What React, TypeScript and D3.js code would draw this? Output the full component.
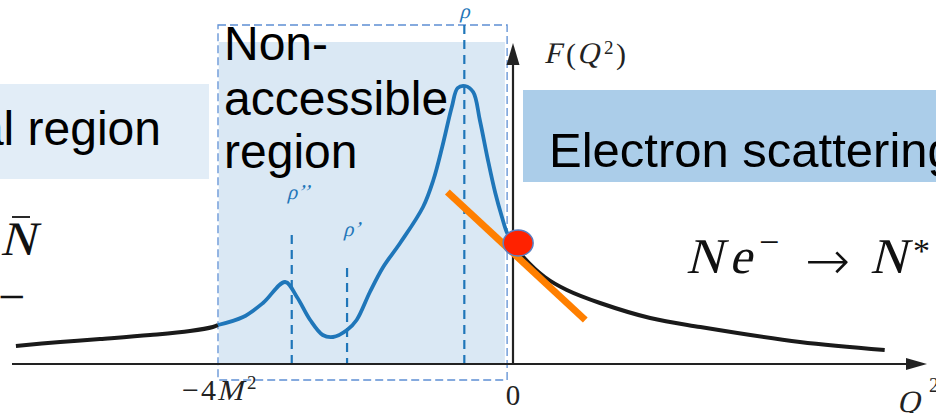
import React from "react";
import * as d3 from "d3";

// Q^2 in units of M^2, F in arbitrary units
const leftQ = [-6.74, -6.14, -5.6, -4.92, -4.38, -4.07, -4.0];
const leftF = [0.18, 0.22, 0.25, 0.29, 0.33, 0.37, 0.39];

const blueQ = [-4.0, -3.66, -3.39, -3.09, -2.93, -2.75, -2.58, -2.44, -2.25, -2.12, -1.94, -1.76, -1.53, -1.22, -1.08, -0.96, -0.83, -0.75, -0.65, -0.54, -0.45, -0.34, -0.24, -0.15, -0.08, 0.0];
const blueF = [0.39, 0.47, 0.61, 0.82, 0.67, 0.44, 0.29, 0.27, 0.34, 0.44, 0.72, 0.97, 1.21, 1.57, 1.84, 2.17, 2.57, 2.76, 2.78, 2.72, 2.44, 2.04, 1.71, 1.47, 1.31, 1.21];

const rightQ = [0.0, 0.14, 0.43, 0.73, 1.18, 1.86, 2.54, 3.89, 5.04];
const rightF = [1.21, 1.07, 0.87, 0.74, 0.61, 0.46, 0.37, 0.22, 0.14];

const tangentQ = [-0.89, 0.98];
const tangentF = [1.72, 0.44];

const resonanceNames = ["ρ’’", "ρ’", "ρ"];
const resonanceQ = [-3.0, -2.25, -0.66];
const resonanceTop = [1.29, 0.96, 3.39];

const xTickValues = [-4, 0];
const xTickLabels = ["−4", "0"];

const W = 936;
const H = 413;

const sans = "'Liberation Sans', Arial, sans-serif";
const serif = "'Liberation Serif', 'Times New Roman', serif";

function It(props: {
  x: number;
  y: number;
  size: number;
  fill?: string;
  anchor?: string;
  children: React.ReactNode;
}) {
  return (
    <text
      transform={`translate(${props.x},${props.y}) skewX(-14)`}
      fontFamily={serif}
      fontSize={props.size}
      fill={props.fill || "#111"}
      textAnchor={props.anchor || "start"}
    >
      {props.children}
    </text>
  );
}

function Rm(props: {
  x: number;
  y: number;
  size: number;
  fill?: string;
  anchor?: string;
  family?: string;
  spacing?: number;
  weight?: number;
  children: React.ReactNode;
}) {
  return (
    <text
      x={props.x}
      y={props.y}
      fontFamily={props.family || serif}
      fontSize={props.size}
      fontWeight={props.weight || 400}
      fill={props.fill || "#111"}
      textAnchor={props.anchor || "start"}
      letterSpacing={props.spacing || 0}
    >
      {props.children}
    </text>
  );
}

export default function App() {
  const x = d3.scaleLinear().domain([-4, 0]).range([218, 513]);
  const y = d3.scaleLinear().domain([0, 1]).range([364, 264]);

  const line = d3
    .line<[number, number]>()
    .x((d) => x(d[0]))
    .y((d) => y(d[1]))
    .curve(d3.curveCatmullRom.alpha(0.5));

  const zip = (a: number[], b: number[]) => a.map((v, i) => [v, b[i]] as [number, number]);

  const axisY = y(0);
  const axisX = x(0);
  const blue = "#1f76b9";
  const dashBlue = "#5d8fd4";
  const labelY = [199, 236, 18];
  const labelDx = [-5, -4, -5];

  return (
    <svg
      width={W}
      height={H}
      style={{ position: "absolute", left: 0, top: 0, background: "#fff" }}
    >
      {/* shaded non-accessible region */}
      <rect x={x(-3.99)} y={y(3.22)} width={x(-0.11) - x(-3.99)} height={y(0) - y(3.22)} fill="#dae8f4" />
      {/* left label box */}
      <rect x={0} y={84} width={209} height={95} fill="#e2edf7" />
      <text x={161} y={145} textAnchor="end" fontFamily={sans} fontSize={48} fill="#000">al region</text>
      {/* electron scattering box */}
      <rect x={523} y={90} width={W - 523} height={92} fill="#abcde9" />
      <text x={549} y={167} fontFamily={sans} fontSize={49} fill="#000">Electron scattering</text>

      {/* Non-accessible region text */}
      <text fontFamily={sans} fontSize={48} fill="#000">
        <tspan x={224} y={60}>Non-</tspan>
        <tspan x={224} y={115}>accessible</tspan>
        <tspan x={224} y={168}>region</tspan>
      </text>

      {/* dashed rectangle */}
      <rect
        x={x(-4)}
        y={y(3.39)}
        width={x(-0.08) - x(-4)}
        height={y(-0.16) - y(3.39)}
        fill="none"
        stroke={dashBlue}
        strokeWidth={1.3}
        strokeDasharray="8 4"
      />

      {/* resonance dashed lines */}
      {resonanceQ.map((q, i) => (
        <line
          key={i}
          x1={x(q)}
          x2={x(q)}
          y1={y(resonanceTop[i])}
          y2={y(0)}
          stroke={blue}
          strokeWidth={2.2}
          strokeDasharray="9 6"
        />
      ))}
      {resonanceQ.map((q, i) => (
        <It key={"l" + i} x={x(q) + labelDx[i]} y={labelY[i]} size={21} fill={blue}>
          {resonanceNames[i]}
        </It>
      ))}

      {/* axes */}
      <line x1={12} x2={910} y1={axisY} y2={axisY} stroke="#222" strokeWidth={2} />
      <polygon points={`927,${axisY} 906,${axisY - 6} 906,${axisY + 6}`} fill="#222" />
      <line x1={axisX} x2={axisX} y1={axisY} y2={62} stroke="#222" strokeWidth={2.2} />
      <polygon points={`${axisX},43 ${axisX - 6.5},65 ${axisX + 6.5},65`} fill="#222" />

      {/* tick labels */}
      <Rm x={x(xTickValues[0]) - 36} y={400} size={30} spacing={2} fill="#222">{xTickLabels[0]}</Rm>
      <It x={x(xTickValues[0]) - 1} y={400} size={29} fill="#222">M</It>
      <Rm x={x(xTickValues[0]) + 29} y={389} size={19} fill="#222">2</Rm>
      <Rm x={x(xTickValues[1])} y={405} size={29} fill="#222" anchor="middle">{xTickLabels[1]}</Rm>

      {/* axis titles */}
      <It x={897} y={412} size={31} fill="#222">Q</It>
      <Rm x={929} y={392} size={20} fill="#222">2</Rm>

      <It x={544} y={63} size={30} fill="#222">F</It>
      <Rm x={566} y={64} size={30} fill="#222">(</Rm>
      <It x={577} y={63} size={30} fill="#222">Q</It>
      <Rm x={604} y={54} size={19} fill="#222">2</Rm>
      <Rm x={616} y={64} size={30} fill="#222">)</Rm>

      {/* N e- -> N* */}
      <It x={686} y={273} size={50}>N</It>
      <It x={729} y={273} size={50}>e</It>
      <Rm x={759} y={254} size={36}>−</Rm>
      <Rm x={805} y={279} size={54} weight={200} family="'DejaVu Sans', sans-serif">→</Rm>
      <It x={870} y={273} size={50}>N</It>
      <Rm x={913} y={262} size={34}>*</Rm>

      {/* clipped left math */}
      <It x={35} y={255} size={48} anchor="end">N</It>
      <line x1={12} x2={30} y1={217} y2={217} stroke="#111" strokeWidth={1.8} />
      <Rm x={25} y={313} size={48} anchor="end">−</Rm>

      {/* curves */}
      <path d={line(zip(leftQ, leftF)) || ""} fill="none" stroke="#1a1a1a" strokeWidth={4} />
      <path d={line(zip(rightQ, rightF)) || ""} fill="none" stroke="#1a1a1a" strokeWidth={4} />
      <path d={line(zip(blueQ, blueF)) || ""} fill="none" stroke={blue} strokeWidth={3.8} />

      {/* tangent */}
      <line
        x1={x(tangentQ[0])}
        y1={y(tangentF[0])}
        x2={x(tangentQ[1])}
        y2={y(tangentF[1])}
        stroke="#ff7f00"
        strokeWidth={7}
      />
      {/* point at Q^2=0 */}
      <ellipse cx={x(0.07)} cy={y(1.21)} rx={15} ry={13} fill="#ff2200" stroke="#5a80c4" strokeWidth={1.5} />
    </svg>
  );
}
